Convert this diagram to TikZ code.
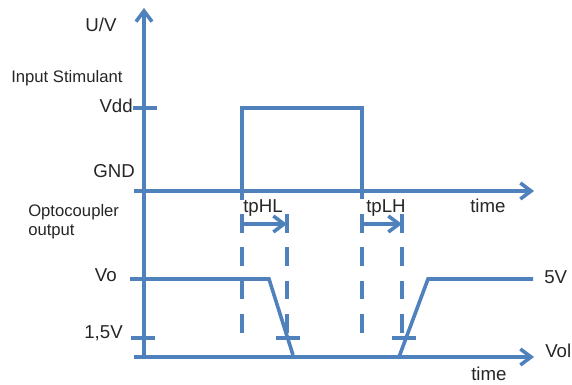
\documentclass[tikz,border=0pt]{standalone}
\usepackage{fontspec}
\setmainfont{Liberation Sans}
\usetikzlibrary{arrows.meta}

\begin{document}
\begin{tikzpicture}[x=0.75pt,y=-0.75pt,font=\fontsize{14}{16}\selectfont]

    \definecolor{wave}{RGB}{79,129,189}

    \tikzset{
        sig/.style={draw=wave,line width=2.7pt},
        axis/.style={sig,-{Straight Barb[length=8pt,width=12pt]}},
        guide/.style={draw=wave,line width=3pt,dash pattern=on 14pt off 11pt},
        lbl/.style={inner sep=0pt,text=black!85},
        small/.style={lbl,font=\fontsize{12.5}{14}\selectfont}
    }

    \newcommand{\hmark}[2]{%
        \draw[sig] (#1-12,#2) -- (#1+12,#2);
    }

    \useasboundingbox (0,0) rectangle (572,385);

    % axes
    \coordinate (ybot) at (144,357);
    \coordinate (ytop) at (144,8);
    \coordinate (inl) at (134,191);
    \coordinate (inr) at (534,191);
    \coordinate (outl) at (134,357);
    \coordinate (outr) at (534,357);

    \draw[axis] (ybot) -- (ytop);
    \draw[axis] (inl) -- (inr);
    \draw[axis] (outl) -- (outr);

    \hmark{145}{108}
    \hmark{142}{279}
    \hmark{143}{338}

    % input pulse
    \draw[sig] (242,200) -- (242,108) -- (362,108) -- (362,199);

    % optocoupler output
    \draw[sig] (144,279) -- (269,279) -- (293,355);
    \draw[sig] (399,357) -- (428,279) -- (533,279);

    % delay markers
    \foreach \x/\y in {242/341,287/338,362/341,402/338}
    \draw[guide] (\x,214) -- (\x,\y);
    \hmark{288}{338}
    \hmark{404}{338}

    \coordinate (hla) at (242,224);
    \coordinate (hlb) at (287,224);
    \coordinate (lha) at (362,224);
    \coordinate (lhb) at (402,224);
    \draw[axis] (hla) -- (hlb);
    \draw[axis] (lha) -- (lhb);

    % labels
    \node[lbl,anchor=base] (uv) at (101,32) {U/V};
    \node[small,anchor=base west] (stim) at (11,83) {Input Stimulant};
    \node[lbl,anchor=base east] (vdd) at (133,113) {Vdd};
    \node[lbl,anchor=base east] (gnd) at (135,177) {GND};
    \node[small,anchor=base west] (opto) at (28,216) {Optocoupler};
    \node[small,anchor=base west] (optob) at (28,235) {output};
    \node[lbl,anchor=base west] (timea) at (470,212) {time};
    \node[lbl,anchor=base west] (tphl) at (243,212) {tpHL};
    \node[lbl,anchor=base west] (tplh) at (366,212) {tpLH};
    \node[lbl,anchor=base east] (vo) at (117,281) {Vo};
    \node[lbl,anchor=base east] (vth) at (123,338) {1,5V};
    \node[lbl,anchor=base west] (vfive) at (544,283) {5V};
    \node[lbl,anchor=base west] (vol) at (545,357) {Vol};
    \node[lbl,anchor=base west] (timeb) at (471,380) {time};

\end{tikzpicture}
\end{document}
